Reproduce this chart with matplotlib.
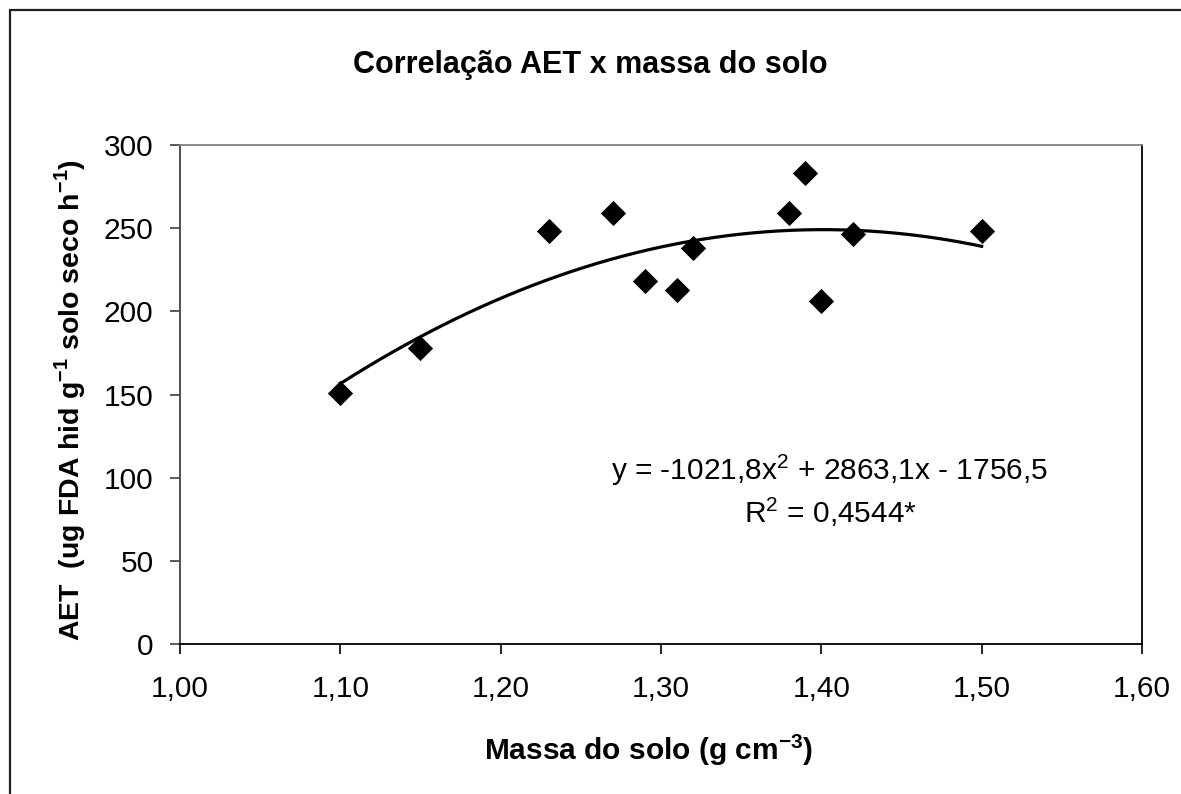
import numpy as np
import matplotlib
matplotlib.use("Agg")
import matplotlib.pyplot as plt
from matplotlib.patches import Rectangle

plt.rcParams["font.family"] = ["Liberation Sans", "DejaVu Sans"]

# Soil mass (g cm-3) and AET values
massa_solo = [1.10, 1.15, 1.23, 1.27, 1.29, 1.31, 1.32, 1.38, 1.39, 1.40, 1.42, 1.50]
aet = [151, 178, 248, 259, 218, 213, 238, 259, 283, 206, 246.5, 248]

# Polynomial trendline coefficients (from the chart equation)
coef = [-1021.8, 2863.1, -1756.5]

x_ticks = [1.00, 1.10, 1.20, 1.30, 1.40, 1.50, 1.60]
y_ticks = [0, 50, 100, 150, 200, 250, 300]


def main():
    fig = plt.figure(figsize=(11.81, 7.94), dpi=100)
    W, H = 1181, 794

    # outer chart frame (runs off the right and bottom edge)
    fig.patches.append(
        Rectangle((10 / W, -0.05), 1.1, (H - 10) / H + 0.05,
                  transform=fig.transFigure, fill=False,
                  edgecolor="#202020", linewidth=1.6)
    )

    left, right, top, bottom = 180, 1142, 145, 644
    ax = fig.add_axes([left / W, 1 - bottom / H, (right - left) / W, (bottom - top) / H])

    ax.scatter(massa_solo, aet, marker="D", s=165, color="black", zorder=3, linewidths=0)

    xs = np.linspace(min(massa_solo), max(massa_solo), 200)
    ax.plot(xs, np.polyval(coef, xs), color="black", linewidth=2.3, zorder=2)

    ax.set_xlim(1.0, 1.6)
    ax.set_ylim(0, 300)
    ax.set_xticks(x_ticks)
    ax.set_xticklabels([f"{v:.2f}".replace(".", ",") for v in x_ticks])
    ax.set_yticks(y_ticks)
    ax.tick_params(axis="both", direction="out", length=7, width=1.2,
                   labelsize=21.5, colors="black")
    ax.tick_params(axis="x", pad=15)
    ax.tick_params(axis="y", pad=12, color="#404040")

    ax.spines["top"].set_color("#808080")
    ax.spines["right"].set_color("black")
    ax.spines["left"].set_color("#404040")
    ax.spines["bottom"].set_color("black")
    for sp in ax.spines.values():
        sp.set_linewidth(1.3)

    ax.set_xlabel(r"Massa do solo (g cm$^{\mathregular{-3}}$)", fontsize=21.5,
                  fontweight="bold")
    ax.xaxis.set_label_coords(0.487, -0.176)
    ax.set_ylabel(r"AET  (ug FDA hid g$^{\mathregular{-1}}$ solo seco h$^{\mathregular{-1}}$)",
                  fontsize=20.5, fontweight="bold")
    ax.yaxis.set_label_coords(-0.096, 0.49)

    fig.text(590 / W, 1 - 65 / H, "Correlação AET x massa do solo", fontsize=22,
             fontweight="bold", ha="center", va="center")

    ax.text(830 / W, 1 - 470 / H, r"y = -1021,8x$^{\mathregular{2}}$ + 2863,1x - 1756,5",
            transform=fig.transFigure, fontsize=21.5, ha="center", va="center")
    ax.text(830 / W, 1 - 512 / H, r"R$^{\mathregular{2}}$ = 0,4544*",
            transform=fig.transFigure, fontsize=21.5, ha="center", va="center")

    fig.savefig("out.png", dpi=100)


if __name__ == "__main__":
    main()
